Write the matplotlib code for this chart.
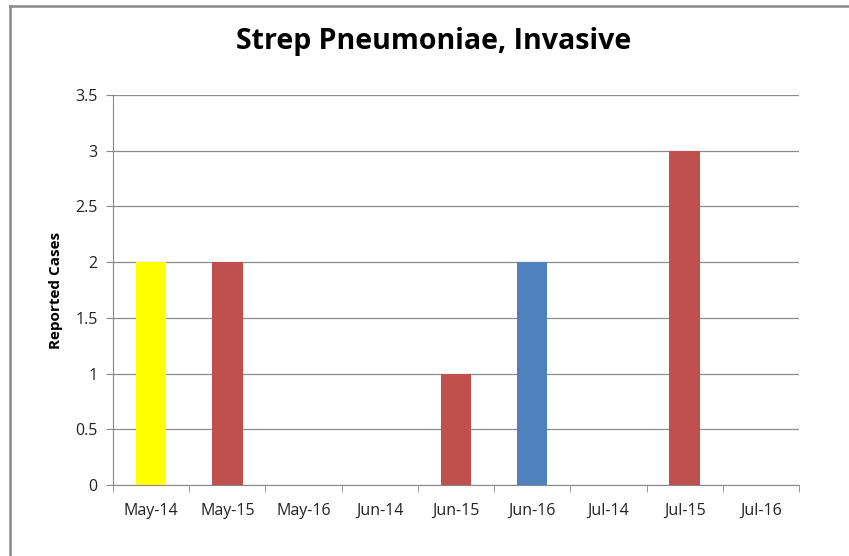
import matplotlib
matplotlib.use("Agg")
import matplotlib.pyplot as plt
from matplotlib.lines import Line2D

categories = ["May-14", "May-15", "May-16", "Jun-14", "Jun-15", "Jun-16", "Jul-14", "Jul-15", "Jul-16"]
values = [2, 2, 0, 0, 1, 2, 0, 3, 0]
colors = ["#FFFF00", "#C0504D", "#C0504D", "#C0504D", "#C0504D", "#4F81BD", "#C0504D", "#C0504D", "#C0504D"]
yticks = [0, 0.5, 1, 1.5, 2, 2.5, 3, 3.5]
ytick_labels = ["0", "0.5", "1", "1.5", "2", "2.5", "3", "3.5"]
title = "Strep Pneumoniae, Invasive"
ylabel = "Reported Cases"

plt.rcParams['font.family'] = ['Open Sans', 'DejaVu Sans']

fig = plt.figure(figsize=(8.49, 5.56), dpi=100)
ax = fig.add_axes([113/849, 71/556, 686/849, 390/556])

x = list(range(len(categories)))
ax.bar(x, values, width=0.4, color=colors, zorder=3)

ax.set_xlim(-0.5, len(categories) - 0.5)
ax.set_ylim(0, 3.5)
ax.set_yticks(yticks)
ax.set_yticklabels(ytick_labels, fontsize=11.5, color="#222222")
ax.set_xticks(x)
ax.set_xticklabels(categories, fontsize=11.5, color="#222222")
ax.tick_params(axis='x', length=0, pad=13)
ax.tick_params(axis='y', length=5, color="#888888", pad=6)

# minor x ticks at category boundaries
bounds = [i - 0.5 for i in range(len(categories) + 1)]
ax.set_xticks(bounds, minor=True)
ax.tick_params(axis='x', which='minor', length=5, color="#888888", direction='out')

ax.yaxis.grid(True, color="#8c8c8c", linewidth=0.9, zorder=0)
for s in ["top", "right"]:
    ax.spines[s].set_visible(False)
ax.spines["left"].set_color("#888888")
ax.spines["bottom"].set_color("#888888")

ax.set_ylabel(ylabel, fontsize=11, fontweight="bold", labelpad=9)
fig.text(434/849, 1 - 42/556, title, ha="center", va="center", fontsize=20.5, fontweight="bold")

# outer border (top and left)
fig.add_artist(Line2D([9.5/849, 1], [1 - 5.5/556, 1 - 5.5/556], color="#888888", linewidth=1.8, transform=fig.transFigure))
fig.add_artist(Line2D([9.5/849, 9.5/849], [0, 1 - 5.5/556], color="#888888", linewidth=1.8, transform=fig.transFigure))

fig.savefig("out.png", dpi=100)
